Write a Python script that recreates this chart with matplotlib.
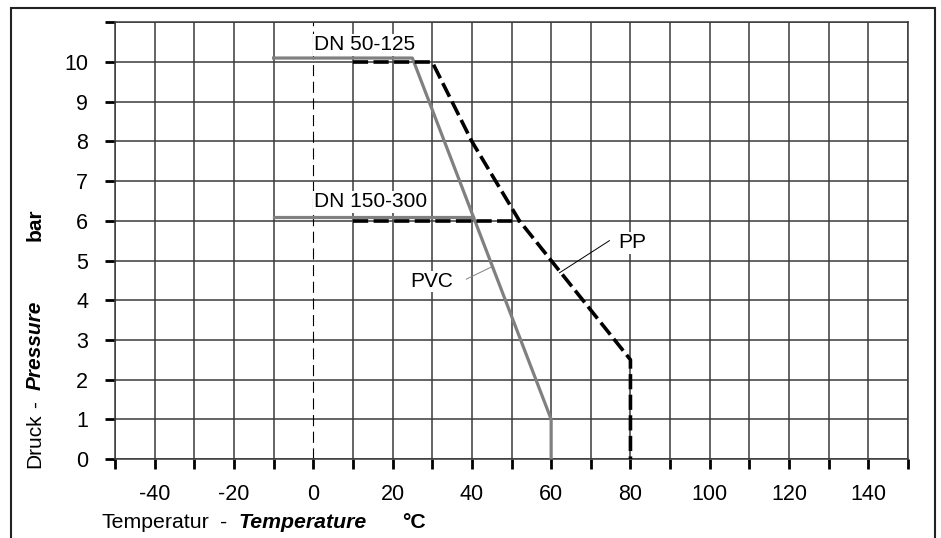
import numpy as np
import matplotlib.pyplot as plt
from matplotlib.patches import Rectangle

plt.rcParams['font.family'] = ['Liberation Sans', 'DejaVu Sans']

# PVC curves (grey, solid)
pvc_small_t = [-10, 25, 60, 60]
pvc_small_p = [10.1, 10.1, 1.0, 0]
pvc_large_t = [-10, 40.3]
pvc_large_p = [6.1, 6.1]

# PP curves (black, dashed)
pp_small_t = [10, 30, 40, 52, 80, 80]
pp_small_p = [10, 10, 8, 6, 2.5, 0]
pp_large_t = [10, 52]
pp_large_p = [6, 6]

x_ticks = np.arange(-50, 151, 10)
x_labels = [str(v) if v % 20 == 0 and -50 < v < 150 else '' for v in x_ticks]
y_ticks = np.arange(0, 12, 1)
y_labels = [str(v) if v <= 10 else '' for v in y_ticks]

W, H = 941, 538
fs = 15
fig = plt.figure(figsize=(W / 100, H / 100), dpi=100)
ax = fig.add_axes([115 / W, 1 - 459 / H, (908 - 115) / W, (459 - 22.3) / H])
ax.set_xlim(-50, 150)
ax.set_ylim(0, 11)

grid_c = '#3a3a3a'
for v in x_ticks:
    if v != 0:
        ax.axvline(v, color=grid_c, lw=1.1, zorder=1)
for v in y_ticks:
    ax.axhline(v, color=grid_c, lw=1.1, zorder=1)
ax.plot([0, 0], [0, 11], color='black', lw=0.8, dashes=(10, 5), zorder=1)

ax.plot(pvc_small_t, pvc_small_p, color='#808080', lw=2.3, zorder=3)
ax.plot(pvc_large_t, pvc_large_p, color='#808080', lw=2.3, zorder=3)
ax.plot(pp_small_t, pp_small_p, color='black', lw=2.6, dashes=(4.2, 1.5), zorder=4)
ax.plot(pp_large_t, pp_large_p, color='black', lw=2.6, dashes=(4.2, 1.5), zorder=4)

box = dict(facecolor='white', edgecolor='none', pad=1.0)
ax.text(0.3, 10.43, 'DN 50-125', fontsize=fs, ha='left', va='center', bbox=box, zorder=2)
ax.text(0.3, 6.48, 'DN 150-300', fontsize=fs, ha='left', va='center', bbox=box, zorder=2)
ax.text(29.9, 4.47, 'PVC', fontsize=fs, ha='center', va='center', bbox=box, zorder=2)
ax.text(80.4, 5.45, 'PP', fontsize=fs, ha='center', va='center', bbox=box, zorder=2)
ax.plot([38.6, 44.8], [4.53, 4.83], color='#808080', lw=0.7, zorder=2)
ax.plot([74.7, 62.1], [5.5, 4.69], color='black', lw=0.7, zorder=2)

for s in ax.spines.values():
    s.set_color(grid_c)
    s.set_linewidth(1.1)

ax.set_xticks(x_ticks)
ax.set_xticklabels(x_labels)
ax.set_yticks(y_ticks)
ax.set_yticklabels(y_labels)
ax.tick_params(axis='x', direction='out', length=7.2, width=2.0, pad=11, labelsize=15.5)
ax.tick_params(axis='y', direction='out', length=7.2, width=2.0, pad=12, labelsize=15.5)

def fx(px):
    return px / W

def fy(py):
    return 1 - py / H

xfs = 15.3
fig.text(fx(102), fy(522), 'Temperatur', fontsize=xfs, va='center')
fig.text(fx(220), fy(522), '-', fontsize=xfs, va='center')
fig.text(fx(238), fy(522), 'Temperature', fontsize=xfs, va='center',
         fontweight='bold', fontstyle='italic')
fig.text(fx(402), fy(522), '°C', fontsize=xfs, va='center', fontweight='bold')

ykw = dict(fontsize=fs, rotation=90, rotation_mode='anchor', ha='left', va='center')
fig.text(fx(35), fy(468), 'Druck', **ykw)
fig.text(fx(35), fy(408), '-', **ykw)
fig.text(fx(35), fy(390), 'Pressure', fontweight='bold', fontstyle='italic', **ykw)
fig.text(fx(35), fy(241), 'bar', fontweight='bold', **ykw)

fig.add_artist(Rectangle((fx(11), fy(560)), fx(935 - 11), (560 - 8.3) / H,
                         transform=fig.transFigure, fill=False,
                         edgecolor='#222222', lw=1.5))

fig.savefig('out.png', dpi=100)
